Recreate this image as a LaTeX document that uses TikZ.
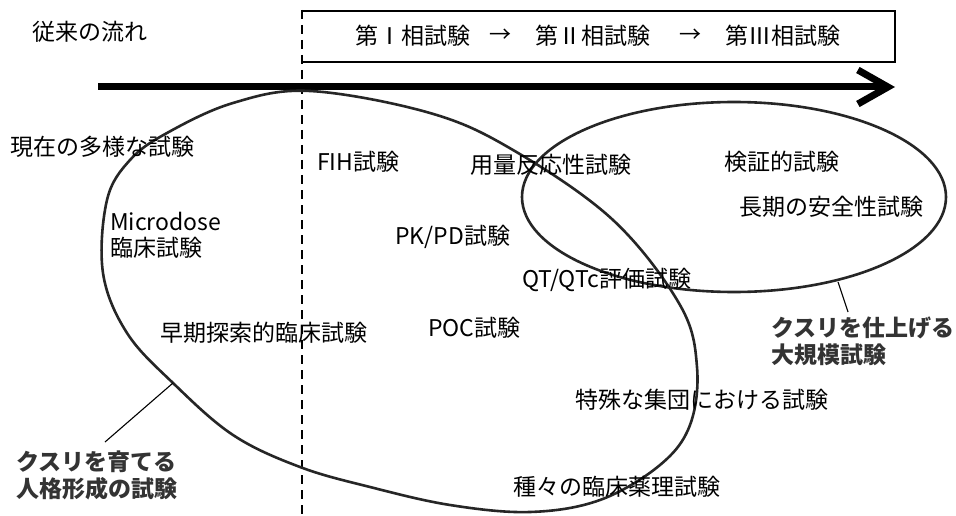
\documentclass[tikz,border=0pt]{standalone}
\usepackage{fontspec}
\setmainfont{Noto Sans CJK JP}
\usetikzlibrary{arrows.meta}
\begin{document}
\begin{tikzpicture}[x=1pt,y=-1pt,
  lbl/.style={anchor=west,inner sep=0pt,font=\fontsize{23}{26}\selectfont,align=left},
  phase/.style={anchor=west,inner sep=0pt,font=\fontsize{23}{26}\selectfont\addfontfeatures{CharacterWidth=Full}},
  tag/.style={anchor=west,inner sep=0pt,font=\fontsize{23}{27}\selectfont\bfseries,text=black!80,align=left},
  curve/.style={line width=2.6pt,draw=black!85},
  leader/.style={line width=1.1pt}]
\useasboundingbox[fill=white] (0,0) rectangle (956,516);

% header
\node[lbl] (flow) at (32,32) {従来の流れ};
\coordinate (bx1) at (302,11);
\coordinate (bx2) at (895,62);
\draw[line width=1.4pt] (bx1) -- (bx1 -| bx2) -- (bx2) -- (bx2 -| bx1);
\node[phase] (p1) at (355,36) {第Ⅰ相試験};
\node[inner sep=0pt,font=\fontsize{22}{26}\selectfont] (a1) at (500,36) {→};
\node[phase] (p2) at (535,36) {第Ⅱ相試験};
\node[inner sep=0pt,font=\fontsize{22}{26}\selectfont] (a2) at (690,36) {→};
\node[phase] (p3) at (725,36) {第Ⅲ相試験};

% dashed divider
\coordinate (dtop) at (302,10);
\coordinate (dbot) at (302,516);
\draw[line width=2.2pt,dash pattern=on 9pt off 6pt] (dtop) -- (dbot);

% main arrow
\coordinate (as) at (98,87);
\coordinate (ae) at (895,87);
\draw[line width=7pt,-{Straight Barb[length=30pt,width=34pt]}] (as) -- (ae);

% big closed curve
\draw[curve] plot[smooth cycle,tension=0.6] coordinates {
 (310,91) (430,113) (513,150) (613,220) (680,305) (697,367) (690,425)
 (660,465) (600,500) (530,512) (450,505) (370,487) (300,467) (233,435)
 (173,383) (127,333) (103,273) (107,200) (130,160) (167,133) (233,103)};

% small ellipse
\draw[curve] (734,197) ellipse [x radius=212, y radius=95];

% labels
\node[lbl] (now) at (10,147) {現在の多様な試験};
\node[lbl] (fih) at (317,162) {FIH試験};
\node[lbl] (dose) at (470,165) {用量反応性試験};
\node[lbl] (conf) at (724,162) {検証的試験};
\node[lbl] (long) at (739,207) {長期の安全性試験};
\node[lbl] (micro) at (110,235) {Microdose\\臨床試験};
\node[lbl] (pkpd) at (395,237) {PK/PD試験};
\node[lbl] (qt) at (522,280) {QT/QTc評価試験};
\node[lbl] (early) at (160,333) {早期探索的臨床試験};
\node[lbl] (poc) at (428,328) {POC試験};
\node[lbl] (spec) at (575,400) {特殊な集団における試験};
\node[lbl] (var) at (513,487) {種々の臨床薬理試験};

\node[tag] (finish) at (771,341) {クスリを仕上げる\\大規模試験};
\node[tag] (grow) at (16,475) {クスリを育てる\\人格形成の試験};

% leaders
\coordinate (l1a) at (173,383);
\coordinate (l1b) at (105,442);
\draw[leader] (l1a) -- (l1b);
\coordinate (l2a) at (838,282);
\coordinate (l2b) at (848,312);
\draw[leader] (l2a) -- (l2b);
\end{tikzpicture}
\end{document}
